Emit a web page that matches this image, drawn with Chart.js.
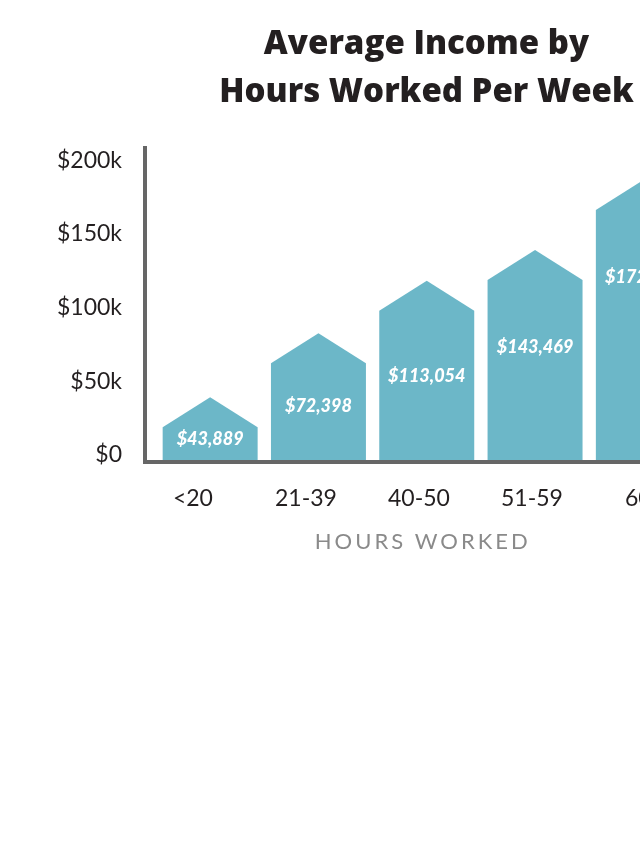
<!DOCTYPE html>
<html lang="en">
<head>
<meta charset="utf-8">
<title>Average Income by Hours Worked Per Week</title>
<script src="https://cdn.jsdelivr.net/npm/chart.js"></script>
<style>
  html, body { margin: 0; padding: 0; background: #fff; overflow: hidden; }
  .chart-box { width: 853px; height: 853px; position: relative; }
</style>
</head>
<body>

<div class="chart-box">
  <canvas id="incomeChart"></canvas>
</div>

<script>
// values
const hoursGroups = ['<20', '21-39', '40-50', '51-59', '60+'];
// printed average income of each group
const avgIncome = [43889, 72398, 113054, 143469, 172376];
// where each bar's peak sits on the $ axis (the graphic is not drawn to scale)
const barPeaks = [42500, 86000, 121600, 142500, 190000];
const yTicks = [0, 50000, 100000, 150000, 200000];
const yTickLabels = ['$0', '$50k', '$100k', '$150k', '$200k'];

const teal = '#6cb7c8';
const ink = '#231f20';
const roof = 30; // px height of the pointed bar tops

Chart.defaults.font.family = 'Lato';

// draw every bar as a little house, plus its value label
const houseBars = {
    id: 'houseBars',
    beforeDatasetDraw(chart, args) {
        const ctx = chart.ctx;
        const yScale = chart.scales.y;
        args.meta.data.forEach((bar, i) => {
            const half = bar.width / 2;
            const wall = bar.y + roof;
            ctx.save();
            ctx.fillStyle = bar.options.backgroundColor;
            ctx.beginPath();
            ctx.moveTo(bar.x - half, bar.base);
            ctx.lineTo(bar.x - half, wall);
            ctx.lineTo(bar.x, bar.y);
            ctx.lineTo(bar.x + half, wall);
            ctx.lineTo(bar.x + half, bar.base);
            ctx.closePath();
            ctx.fill();

            let ly = yScale.getPixelForValue(avgIncome[i] / 2);
            ly = Math.min(Math.max(ly, wall + 12), wall + 67);
            ctx.fillStyle = '#fff';
            ctx.font = 'italic 900 18px Lato';
            ctx.textAlign = 'center';
            ctx.textBaseline = 'middle';
            ctx.fillText('$' + avgIncome[i].toLocaleString('en-US'), bar.x, ly);
            ctx.restore();
        });
        return false;
    }
};

// L-shaped axis line and the spaced-out x axis title
const axisLines = {
    id: 'axisLines',
    afterDatasetsDraw(chart) {
        const { ctx, chartArea } = chart;
        const x0 = chartArea.left - 11;
        const y0 = chartArea.bottom + 2;
        ctx.save();
        ctx.strokeStyle = '#666666';
        ctx.lineWidth = 4;
        ctx.beginPath();
        ctx.moveTo(x0, chartArea.top);
        ctx.lineTo(x0, y0);
        ctx.lineTo(chartArea.right + 11, y0);
        ctx.stroke();

        ctx.fillStyle = '#8a8a8a';
        ctx.font = '22px Lato';
        ctx.letterSpacing = '3px';
        ctx.textAlign = 'center';
        ctx.textBaseline = 'middle';
        ctx.fillText('HOURS WORKED', (chartArea.left + chartArea.right) / 2 - 4, chartArea.bottom + 82);
        ctx.restore();
    }
};

const ctxIncome = document.getElementById('incomeChart').getContext('2d');
new Chart(ctxIncome, {
    type: 'bar',
    data: {
        labels: hoursGroups,
        datasets: [{
            label: 'Average income',
            data: barPeaks,
            backgroundColor: teal,
            barPercentage: 0.877,
            categoryPercentage: 1
        }]
    },
    options: {
        responsive: true,
        maintainAspectRatio: false,
        animation: false,
        events: [],
        layout: { padding: 0 },
        plugins: {
            legend: { display: false },
            tooltip: { enabled: false },
            title: {
                display: true,
                text: ['Average Income by', 'Hours Worked Per Week'],
                color: ink,
                font: { family: 'Open Sans', size: 33, weight: 800, lineHeight: 48 / 33 },
                padding: { top: 21, bottom: 29 }
            }
        },
        scales: {
            x: {
                display: false
            },
            // the category labels in the graphic sit on a slightly wider spacing than the bars
            xLabels: {
                type: 'linear',
                position: 'bottom',
                offset: false,
                bounds: 'data',
                min: -0.327,
                max: 4.465,
                grid: { display: false, offset: false },
                border: { display: false },
                afterBuildTicks(s) { s.ticks = hoursGroups.map((g, i) => ({ value: i })); },
                afterFit(s) { s.height = 393; },
                ticks: {
                    padding: 17,
                    color: ink,
                    font: { size: 23 },
                    maxRotation: 0,
                    autoSkip: false,
                    callback: (v, i) => hoursGroups[i]
                }
            },
            y: {
                min: 0,
                max: 213000,
                grid: { display: false },
                border: { display: false },
                afterBuildTicks(s) { s.ticks = yTicks.map(v => ({ value: v })); },
                afterFit(s) { s.width = 156; },
                ticks: {
                    padding: 26,
                    labelOffset: -5,
                    color: ink,
                    font: { size: 23 },
                    callback: (v, i) => yTickLabels[i]
                }
            },
            yPad: {
                type: 'linear',
                position: 'right',
                grid: { display: false },
                border: { display: false },
                ticks: { display: false },
                afterFit(s) { s.width = 155.5; }
            }
        }
    },
    plugins: [houseBars, axisLines]
});
</script>
</body>
</html>
